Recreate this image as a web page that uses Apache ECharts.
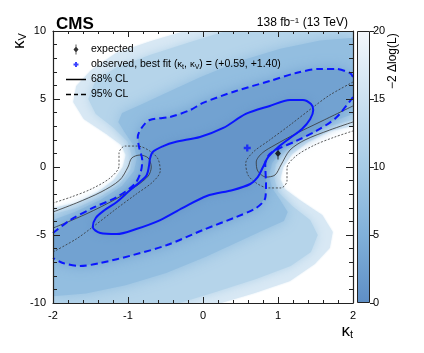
<!DOCTYPE html>
<html>
<head>
<meta charset="utf-8">
<script src="https://cdn.jsdelivr.net/npm/echarts@6/dist/echarts.min.js"></script>
<style>
  html, body { margin: 0; padding: 0; background: #fff; }
  #chart { width: 424px; height: 353px; }
</style>
</head>
<body>
<div id="chart"></div>
<script>
const fontFamily = 'Liberation Sans'

// colour bar ticks of -2 Δlog(L)
const zTicks = [0, 5, 10, 15, 20]

// best fit points (kt, kV)
const expectedPoint = [[1.0, 1.0]]
const observedPoint = [[0.59, 1.40]]

// observed 68% CL contour (closed)
const obs68 = [[-0.71, 0.51], [-0.67, 1.10], [-0.53, 1.54], [-0.37, 1.84], [-0.04, 2.21], [0.27, 2.87], [0.57, 3.90],
  [0.89, 4.49], [1.16, 4.93], [1.33, 4.93], [1.44, 4.63], [1.47, 4.19], [1.43, 3.53], [1.32, 2.79], [1.16, 2.13],
  [0.99, 1.40], [0.87, 0.74], [0.80, 0], [0.73, -0.74], [0.63, -1.25], [0.40, -1.69], [0.05, -2.13], [-0.27, -3.01],
  [-0.57, -3.90], [-0.89, -4.56], [-1.15, -4.93], [-1.37, -4.85], [-1.47, -4.41], [-1.43, -3.75], [-1.31, -3.16],
  [-1.15, -2.57], [-0.97, -1.69], [-0.84, -1.10], [-0.75, -0.59], [-0.71, 0.51]]

// observed 95% CL contour, cut by the frame into two pieces
const obs95Lower = [[2, 5.15], [1.96, 4.85], [1.77, 3.60], [1.51, 2.65], [1.24, 1.91], [1.03, 1.40], [0.89, 0.96],
  [0.83, 0.22], [0.84, -1.32], [0.83, -2.28], [0.71, -3.01], [0.44, -3.68], [0, -4.63], [-0.48, -5.74],
  [-0.93, -6.47], [-1.37, -7.06], [-1.64, -7.28], [-1.87, -7.06], [-2, -6.69]]
const obs95Upper = [[-2, -4.85], [-1.77, -3.90], [-1.47, -3.01], [-1.15, -2.21], [-0.91, -1.25], [-0.83, -0.37],
  [-0.81, 0.51], [-0.85, 1.40], [-0.87, 2.21], [-0.81, 2.94], [-0.71, 3.46], [-0.44, 3.68], [-0.17, 4.19], [0, 4.71],
  [0.44, 5.59], [0.89, 6.32], [1.24, 6.91], [1.56, 7.21], [1.77, 7.21], [1.96, 6.91], [2, 6.62]]

// expected contours (thin black), right and left pieces
const exp68Right = [[2, 4.49], [1.56, 3.31], [1.23, 2.43], [0.96, 1.62], [0.79, 1.03], [0.71, 0.37], [0.73, -0.29],
  [0.84, -0.74], [0.96, -0.59], [1.04, 0.15], [1.16, 1.25], [1.36, 1.99], [1.69, 2.72], [2, 3.31]]
const exp68Left = [[-2, -4.49], [-1.56, -3.46], [-1.16, -2.35], [-0.89, -1.40], [-0.73, -0.66], [-0.69, 0],
  [-0.73, 0.66], [-0.84, 0.88], [-0.95, 0.66], [-1.0, 0], [-1.11, -0.96], [-1.36, -1.84], [-1.69, -2.65], [-2, -3.31]]
const exp95Right = [[2, 6.25], [1.69, 5.29], [1.47, 4.41], [1.16, 3.09], [0.89, 1.99], [0.67, 1.10], [0.57, 0.29],
  [0.60, -0.59], [0.71, -1.18], [0.87, -1.54], [1.04, -1.54], [1.12, -1.03], [1.12, -0.07], [1.24, 0.81],
  [1.49, 1.62], [1.76, 2.21], [2, 2.65]]
const exp95Left = [[-2, -6.25], [-1.69, -5.29], [-1.47, -4.41], [-1.16, -3.09], [-0.89, -1.99], [-0.67, -1.10],
  [-0.57, -0.29], [-0.60, 0.59], [-0.71, 1.18], [-0.87, 1.54], [-1.04, 1.54], [-1.12, 1.03], [-1.12, 0.07],
  [-1.24, -0.81], [-1.49, -1.62], [-1.76, -2.21], [-2, -2.65]]

// shading: outlines of the regions where -2 Δlog(L) is below 20, 15 and 10
const shade20 = [[-0.24, 10], [-0.69, 9.26], [-1.16, 8.38], [-1.49, 7.13], [-1.69, 5.96], [-1.73, 4.78], [-1.59, 3.53],
  [-1.29, 2.43], [-1.09, 1.62], [-1.03, 0.88], [-1.07, 0], [-1.19, -0.96], [-1.40, -1.84], [-1.69, -2.65], [-2, -3.01],
  [-2, -10], [0.24, -10], [0.69, -9.26], [1.16, -8.38], [1.49, -7.13], [1.69, -5.96], [1.73, -4.78], [1.59, -3.53],
  [1.29, -2.43], [1.09, -1.62], [1.03, -0.88], [1.07, 0], [1.19, 0.96], [1.40, 1.84], [1.69, 2.65], [2, 3.01], [2, 10]]
const shade15 = [[0.31, 10], [-0.17, 9.19], [-0.71, 8.24], [-1.17, 7.28], [-1.44, 6.25], [-1.53, 5.0], [-1.43, 3.90],
  [-1.19, 2.87], [-1.0, 1.84], [-0.95, 0.81], [-0.97, -0.22], [-1.11, -1.25], [-1.37, -2.21], [-1.68, -3.01], [-2, -3.46],
  [-2, -10], [-0.31, -10], [0.17, -9.19], [0.71, -8.24], [1.17, -7.28], [1.44, -6.25], [1.53, -5.0], [1.43, -3.90],
  [1.19, -2.87], [1.0, -1.84], [0.95, -0.81], [0.97, 0.22], [1.11, 1.25], [1.37, 2.21], [1.68, 3.01], [2, 3.46], [2, 10]]
const shade10 = [[2, 9.5], [1.56, 9.3], [1.03, 8.7], [0.49, 7.8], [-0.04, 6.6], [-0.51, 5.4], [-0.84, 4.56],
  [-1.08, 3.97], [-1.13, 3.31], [-1.03, 2.43], [-0.92, 1.54], [-0.88, 0.66], [-0.92, -0.29], [-1.08, -1.40],
  [-1.37, -2.43], [-1.71, -3.31], [-2, -3.90], [-2, -9.5], [-1.56, -9.3], [-1.03, -8.7], [-0.49, -7.8],
  [0.04, -6.6], [0.51, -5.4], [0.84, -4.56], [1.08, -3.97], [1.13, -3.31], [1.03, -2.43], [0.92, -1.54],
  [0.88, -0.66], [0.92, 0.29], [1.08, 1.40], [1.37, 2.43], [1.71, 3.31], [2, 3.90]]

// colour scale of the z axis
const paletteStops = [[0, [94, 142, 197]], [5, [128, 176, 217]], [10, [166, 203, 230]], [15, [204, 225, 241]], [20, [244, 248, 252]]]

function shade (v) {
  for (let i = 1; i < paletteStops.length; i++) {
    const a = paletteStops[i - 1]
    const b = paletteStops[i]
    if (v <= b[0]) {
      const t = (v - a[0]) / (b[0] - a[0])
      const c = a[1].map((x, k) => Math.round(x + (b[1][k] - x) * t))
      return 'rgb(' + c.join(',') + ')'
    }
  }
  return 'rgb(' + paletteStops[paletteStops.length - 1][1].join(',') + ')'
}

// filled level region, drawn through the axes
function fillSeries (pts, z, blur) {
  const col = shade(z)
  return {
    type: 'custom',
    xAxisIndex: 0,
    yAxisIndex: 0,
    clip: true,
    silent: true,
    data: pts,
    renderItem: (params, api) => {
      if (params.dataIndex !== 0) return null
      return {
        type: 'polygon',
        shape: { points: pts.map(p => api.coord(p)) },
        style: { fill: col, shadowBlur: blur, shadowColor: col }
      }
    }
  }
}

function lineSeries (pts, color, width, type) {
  return {
    type: 'line',
    xAxisIndex: 0,
    yAxisIndex: 0,
    data: pts,
    symbol: 'none',
    smooth: 0.3,
    silent: true,
    clip: true,
    lineStyle: { color: color, width: width, type: type }
  }
}

const blue = '#0b16ff'
const expIcon = 'path://M-0.5,-6L0.5,-6L0.5,-3L3,0L0.5,3L0.5,6L-0.5,6L-0.5,3L-3,0L-0.5,-3Z'
const obsIcon = 'path://M-1,-3L1,-3L1,-1L3,-1L3,1L1,1L1,3L-1,3L-1,1L-3,1L-3,-1L-1,-1Z'
const obsLegendIcon = 'path://M-1,-2.5L1,-2.5L1,-1L2.5,-1L2.5,1L1,1L1,2.5L-1,2.5L-1,1L-2.5,1L-2.5,-1L-1,-1Z' +
  'M-10,-5L-9.99,-5L-10,-4.99Z M10,5L9.99,5L10,4.99Z'

const legendLabels = {
  'expected': '{n|expected}',
  'observed': '{n|observed, best fit (}{k|κ}{sub|t}{n|, }{k|κ}{sub|V}{n|) = (+0.59, +1.40)}',
  '68% CL': '{n|68% CL}',
  '95% CL': '{n|95% CL}'
}

const axisLineStyle = { color: '#222', width: 1.2 }
const tickStyle = { color: '#222', width: 1 }

const chart = echarts.init(document.getElementById('chart'))

const gradStops = zTicks.map(v => ({ offset: v / 20, color: shade(v) }))

chart.setOption({
  animation: false,
  textStyle: { fontFamily: fontFamily },
  title: [
    { text: 'CMS', left: 51, top: 11, textStyle: { fontSize: 17, fontWeight: 'bold', color: '#000', fontFamily: fontFamily } },
    {
      text: '138 fb{sup|−1} (13 TeV)',
      right: 71,
      top: 12,
      textStyle: {
        fontSize: 12, fontWeight: 'normal', color: '#000', fontFamily: fontFamily,
        rich: { sup: { fontSize: 8, verticalAlign: 'top', lineHeight: 10, fontFamily: fontFamily } }
      }
    }
  ],
  legend: {
    orient: 'vertical',
    left: 61,
    top: 38,
    itemWidth: 20,
    itemHeight: 10,
    itemGap: 2,
    selectedMode: false,
    textStyle: {
      fontSize: 11, color: '#000', lineHeight: 13, fontFamily: fontFamily,
      rich: {
        n: { fontSize: 10.5, lineHeight: 13, fontFamily: fontFamily, color: '#000' },
        k: { fontSize: 9.5, lineHeight: 13, fontFamily: fontFamily, color: '#000' },
        sub: { fontSize: 7, verticalAlign: 'bottom', lineHeight: 9, fontFamily: fontFamily, color: '#000' }
      }
    },
    formatter: name => legendLabels[name],
    data: [
      { name: 'expected', icon: expIcon, itemStyle: { color: '#000' } },
      { name: 'observed', icon: obsLegendIcon, itemStyle: { color: blue } },
      { name: '68% CL', icon: 'path://M0,0H20V1.5H0Z', itemStyle: { color: '#000' } },
      { name: '95% CL', icon: 'path://M0,0H5V1.5H0Z M8,0H12V1.5H8Z M15,0H20V1.5H15Z', itemStyle: { color: '#000' } }
    ]
  },
  grid: [
    { left: 53, top: 31, width: 300, height: 272 },
    { left: 357, top: 31, width: 13, height: 272 }
  ],
  xAxis: [
    {
      type: 'value', gridIndex: 0, min: -2, max: 2, interval: 1, position: 'bottom', z: 10,
      axisLine: { onZero: false, lineStyle: axisLineStyle },
      axisTick: { inside: true, length: 6, lineStyle: tickStyle },
      minorTick: { show: true, splitNumber: 5, length: 3, lineStyle: tickStyle },
      splitLine: { show: false },
      axisLabel: { fontSize: 11, color: '#000', margin: 7, fontFamily: fontFamily }
    },
    {
      type: 'value', gridIndex: 0, min: -2, max: 2, interval: 1, position: 'top', z: 10,
      axisLine: { onZero: false, lineStyle: axisLineStyle },
      axisTick: { inside: true, length: 6, lineStyle: tickStyle },
      minorTick: { show: true, splitNumber: 5, length: 3, lineStyle: tickStyle },
      splitLine: { show: false },
      axisLabel: { show: false }
    },
    { type: 'category', gridIndex: 1, data: ['z'], show: false }
  ],
  yAxis: [
    {
      type: 'value', gridIndex: 0, min: -10, max: 10, interval: 5, position: 'left', z: 10,
      axisLine: { onZero: false, lineStyle: axisLineStyle },
      axisTick: { inside: true, length: 7, lineStyle: tickStyle },
      minorTick: { show: true, splitNumber: 5, length: 4, lineStyle: tickStyle },
      splitLine: { show: false },
      axisLabel: { fontSize: 11, color: '#000', margin: 7, fontFamily: fontFamily }
    },
    {
      type: 'value', gridIndex: 0, min: -10, max: 10, interval: 5, position: 'right', z: 10,
      axisLine: { onZero: false, lineStyle: axisLineStyle },
      axisTick: { inside: true, length: 7, lineStyle: tickStyle },
      minorTick: { show: true, splitNumber: 5, length: 4, lineStyle: tickStyle },
      splitLine: { show: false },
      axisLabel: { show: false }
    },
    {
      type: 'value', gridIndex: 1, min: zTicks[0], max: zTicks[zTicks.length - 1], interval: 5, position: 'right', z: 10,
      axisLine: { show: false },
      axisTick: { show: true, inside: false, length: 4, lineStyle: tickStyle },
      splitLine: { show: false },
      axisLabel: { fontSize: 11, color: '#000', margin: 3, fontFamily: fontFamily }
    }
  ],
  graphic: [
    {
      type: 'text', x: 353, y: 323,
      style: {
        text: '{k|κ}{s|t}', textAlign: 'right', fill: '#000',
        rich: { k: { fontSize: 17, fontFamily: fontFamily }, s: { fontSize: 11, verticalAlign: 'bottom', lineHeight: 12, fontFamily: fontFamily } }
      }
    },
    {
      type: 'text', x: 28, y: 49, rotation: Math.PI / 2,
      style: {
        text: '{k|κ}{s|V}', textAlign: 'left', textVerticalAlign: 'bottom', fill: '#000',
        rich: { k: { fontSize: 17, fontFamily: fontFamily }, s: { fontSize: 11, verticalAlign: 'bottom', lineHeight: 12, fontFamily: fontFamily } }
      }
    },
    {
      type: 'text', x: 399, y: 89, rotation: Math.PI / 2,
      style: { text: '−2 Δlog(L)', textAlign: 'left', textVerticalAlign: 'bottom', fill: '#000', fontSize: 12, fontFamily: fontFamily }
    }
  ],
  series: [
    fillSeries(shade20, 16.5, 2),
    fillSeries(shade15, 12, 10),
    fillSeries(shade10, 7.5, 14),
    fillSeries(obs95Lower.concat(obs95Upper), 3, 14),
    fillSeries(obs68, 1, 10),
    lineSeries(exp95Right, '#333', 0.8, [2, 1.6]),
    lineSeries(exp95Left, '#333', 0.8, [2, 1.6]),
    lineSeries(exp68Right, '#333', 0.8, 'solid'),
    lineSeries(exp68Left, '#333', 0.8, 'solid'),
    lineSeries(obs95Lower, blue, 2, [7, 4]),
    lineSeries(obs95Upper, blue, 2, [7, 4]),
    lineSeries(obs68, blue, 2, 'solid'),
    { name: '68% CL', type: 'line', data: [], symbol: 'none', lineStyle: { color: '#000' } },
    { name: '95% CL', type: 'line', data: [], symbol: 'none', lineStyle: { color: '#000', type: 'dashed' } },
    {
      name: 'observed', type: 'scatter', xAxisIndex: 0, yAxisIndex: 0, data: observedPoint,
      symbol: obsIcon, symbolSize: 7, itemStyle: { color: blue }, silent: true
    },
    {
      name: 'expected', type: 'scatter', xAxisIndex: 0, yAxisIndex: 0, data: expectedPoint,
      symbol: expIcon, symbolSize: [6, 12], itemStyle: { color: '#000' }, silent: true
    },
    {
      type: 'bar', xAxisIndex: 2, yAxisIndex: 2, data: [zTicks[zTicks.length - 1]], barWidth: '100%', silent: true,
      itemStyle: {
        color: new echarts.graphic.LinearGradient(0, 1, 0, 0, gradStops),
        borderColor: '#222', borderWidth: 1
      }
    }
  ]
})
</script>
</body>
</html>
